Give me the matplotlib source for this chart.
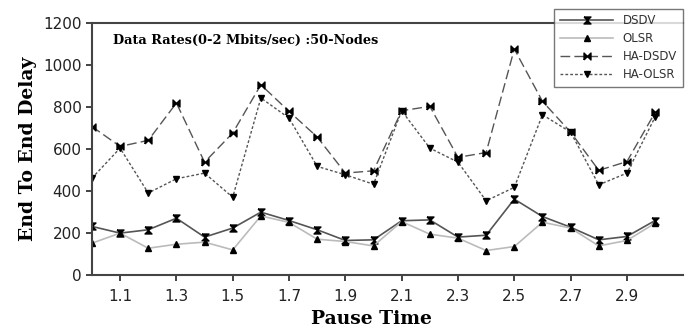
import matplotlib
matplotlib.use("Agg")
import matplotlib.pyplot as plt
from matplotlib.path import Path

# pause time values
pause = [1.0, 1.1, 1.2, 1.3, 1.4, 1.5, 1.6, 1.7, 1.8, 1.9, 2.0,
         2.1, 2.2, 2.3, 2.4, 2.5, 2.6, 2.7, 2.8, 2.9, 3.0]

dsdv = [231, 199, 215, 270, 180, 223, 299, 259, 215, 164, 167,
        258, 262, 180, 189, 361, 278, 227, 167, 183, 259]
olsr = [151, 199, 127, 146, 156, 119, 281, 250, 170, 159, 138,
        254, 194, 175, 116, 135, 251, 223, 138, 164, 246]
ha_dsdv = [707, 612, 641, 819, 537, 676, 906, 779, 657, 485, 496,
           782, 803, 560, 583, 1076, 827, 680, 498, 540, 774]
ha_olsr = [461, 604, 390, 458, 485, 370, 843, 747, 517, 477, 432,
           782, 604, 537, 353, 417, 763, 680, 429, 485, 752]

xticks = [1.1, 1.3, 1.5, 1.7, 1.9, 2.1, 2.3, 2.5, 2.7, 2.9]
yticks = [0, 200, 400, 600, 800, 1000, 1200]

# hourglass markers
hourglass_v = Path([(-1, 1), (1, 1), (0, 0), (1, -1), (-1, -1), (0, 0), (-1, 1)])
hourglass_h = Path([(-1, -1), (-1, 1), (0, 0), (1, 1), (1, -1), (0, 0), (-1, -1)])

fig = plt.figure(figsize=(6.86, 3.34), dpi=100)
ax = fig.add_axes([0.134, 0.177, 0.862, 0.754])

ax.plot(pause, dsdv, color="#555555", lw=1.2, marker=hourglass_v, ms=5,
        mfc="black", mec="black", label="DSDV")
ax.plot(pause, olsr, color="#bbbbbb", lw=1.2, marker="^", ms=5,
        mfc="black", mec="black", label="OLSR")
ax.plot(pause, ha_dsdv, color="#555555", lw=1.0, ls=(0, (7, 3)), marker=hourglass_h, ms=5,
        mfc="black", mec="black", label="HA-DSDV")
ax.plot(pause, ha_olsr, color="#555555", lw=1.0, ls=(0, (2, 1.5)), marker="v", ms=5,
        mfc="black", mec="black", label="HA-OLSR")

ax.set_xlim(1.0, 3.1)
ax.set_ylim(0, 1200)
ax.set_xticks(xticks)
ax.set_xticklabels([f"{t:.1f}" for t in xticks])
ax.set_yticks(yticks)
ax.tick_params(labelsize=11, colors="#222222", length=4, width=1.2)
ax.tick_params(axis="x", pad=6)

for s in ["left", "bottom", "top"]:
    ax.spines[s].set_color("#444444")
    ax.spines[s].set_linewidth(1.5)
ax.spines["right"].set_visible(False)

ax.set_ylabel("End To End Delay", fontsize=13.5, fontweight="bold",
              family="DejaVu Serif", labelpad=4)
ax.set_xlabel("Pause Time", fontsize=13.5, fontweight="bold",
              family="DejaVu Serif", labelpad=3)
ax.xaxis.set_label_coords(0.472, -0.14)

ax.text(0.035, 0.93, "Data Rates(0-2 Mbits/sec) :50-Nodes", transform=ax.transAxes,
        fontsize=9.3, fontweight="bold", family="DejaVu Serif", va="center")

leg = fig.legend(loc="upper right", bbox_to_anchor=(1.004, 0.992), fontsize=8.5,
                 frameon=True, fancybox=False, edgecolor="#555555",
                 handlelength=4.5, labelspacing=0.42, borderpad=0.5)
leg.get_frame().set_linewidth(1.0)
for t in leg.get_texts():
    t.set_color("#333333")

fig.savefig("out.png", dpi=100)
